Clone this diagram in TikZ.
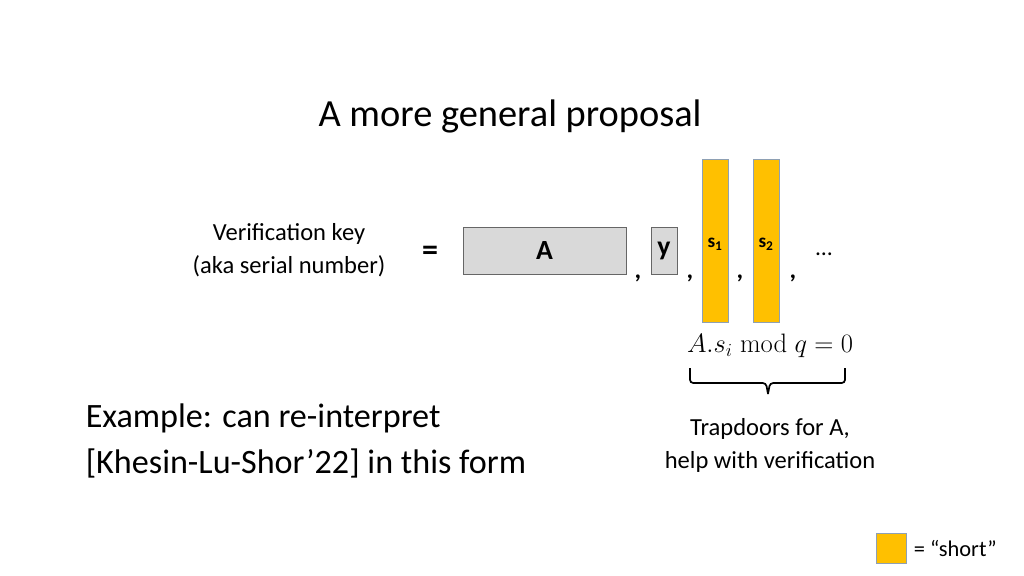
\documentclass[tikz,border=0pt]{standalone}
\usepackage{fontspec}
\setmainfont{Carlito}
\newfontfamily\lmr{Latin Modern Roman}
\definecolor{gbox}{HTML}{D9D9D9}
\definecolor{sgold}{HTML}{FFC000}
\definecolor{sedge}{HTML}{8EA0B4}
\tikzset{
  graybox/.style={draw=black!60,fill=gbox,line width=0.8pt,inner sep=0},
  shortbox/.style={draw=sedge,fill=sgold,line width=0.8pt,inner sep=0},
  comma/.style={font=\fontsize{24}{24}\selectfont\bfseries},
}
\begin{document}
\begin{tikzpicture}[x=0.9375pt,y=-0.9375pt]
\useasboundingbox (0,0) rectangle (1024,576);
\node[font=\fontsize{36}{40}\selectfont] (title) at (510,116) {A more general proposal};
\node[align=center,font=\fontsize{23}{31}\selectfont] (vk) at (289,250) {Verification key\\(aka serial number)};
\node[font=\fontsize{30}{30}\selectfont\bfseries] (eq) at (430,253) {=};
\node[graybox,minimum width=163*0.9375pt,minimum height=47*0.9375pt,font=\fontsize{26}{26}\selectfont\bfseries] (A) at (544.5,250.5) {A};
\node[graybox,minimum width=26*0.9375pt,minimum height=47*0.9375pt,font=\fontsize{26}{26}\selectfont\bfseries] (y) at (664,250.5) {y};
\node[shortbox,minimum width=26*0.9375pt,minimum height=163*0.9375pt] (s1) at (715,240.5) {};
\node[shortbox,minimum width=26*0.9375pt,minimum height=163*0.9375pt] (s2) at (766,240.5) {};
\node[font=\fontsize{18}{18}\selectfont\bfseries] (l1) at (715,244) {s\textsubscript{1}};
\node[font=\fontsize{18}{18}\selectfont\bfseries] (l2) at (766,244) {s\textsubscript{2}};
\node[comma] (c1) at (638,278) {,};
\node[comma] (c2) at (690,278) {,};
\node[comma] (c3) at (740,278) {,};
\node[comma] (c4) at (793,278) {,};
\node[font=\fontsize{22}{22}\selectfont] (dots) at (824,254) {…};
\node (f) at (770,346) {\fontsize{25}{25}\selectfont $A.s_i\;\mbox{\lmr mod}\;q = 0$};
\draw[line width=1.6pt,rounded corners=3pt] (690,368) -- (690,383) -- (766,383) -- (768,394);
\draw[line width=1.6pt,rounded corners=3pt] (845,368) -- (845,383) -- (770,383) -- (768,394);
\node[align=center,font=\fontsize{23}{31}\selectfont] (trap) at (770,445) {Trapdoors for A,\\help with verification};
\node[align=left,anchor=west,font=\fontsize{32}{43}\selectfont] (ex) at (82,441) {Example: can re-interpret\\{[}Khesin-Lu-Shor’22] in this form};
\node[shortbox,minimum width=30*0.9375pt,minimum height=30*0.9375pt] (leg) at (891,548) {};
\node[anchor=west,font=\fontsize{21}{21}\selectfont] (legt) at (910,548) {= “short”};
\end{tikzpicture}
\end{document}
